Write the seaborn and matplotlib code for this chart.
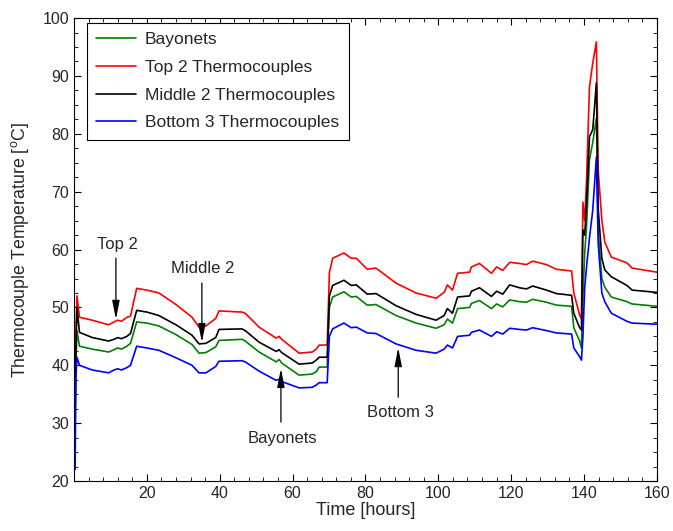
import numpy as np
import pandas as pd
import matplotlib
matplotlib.use('Agg')
import matplotlib.pyplot as plt
from matplotlib.ticker import MultipleLocator
import seaborn as sns

# time knots [hours]
hours = [0.3, 0.5, 0.8, 1.5, 5, 9.5, 11, 12, 13, 14.5, 15.5, 17.2, 20, 23.3, 28,
         32.4, 34.3, 36.2, 38.9, 39.8, 46.1, 47, 50.8, 55.5, 56.3, 57, 61.8,
         65.4, 66.5, 67.3, 69.5, 70.1, 71, 74.1, 76.1, 77.5, 80.5, 82.9, 88.4,
         93.9, 99.4, 101.6, 102.5, 103.9, 105.3, 108.6, 109.1, 111.3, 114.6,
         116, 117.7, 119.6, 122.3, 124.2, 125.9, 129.7, 132.4,
         136.6, 137.2, 138.8, 139.3, 139.7, 140.2, 140.7, 141.5, 142.4, 143.4,
         143.9, 144.9, 145.7, 147.5, 151.8, 153.2, 160]

top2 = [35, 45, 52, 48.3, 47.8, 47.0, 47.5, 47.8, 47.6, 48.3, 48.5, 53.3, 53.0,
        52.5, 50.5, 48.3, 46.6, 46.8, 48.1, 49.4, 49.2, 49.0, 46.6, 44.7, 45.0,
        44.5, 42.1, 42.3, 42.8, 43.5, 43.5, 56.0, 58.5, 59.4, 58.5, 58.5, 56.6,
        56.8, 54.2, 52.5, 51.6, 52.6, 53.9, 53.0, 55.9, 56.1, 57.0, 57.6, 55.9,
        57.0, 56.4, 57.8, 57.6, 57.4, 58.0, 57.4, 56.6,
        56.3, 52.5, 48.7, 48.0, 68.2, 65.0, 72.0, 88.1, 92.2, 95.9,
        73.7, 65.1, 61.3, 58.7, 57.7, 56.8, 56.1]

middle2 = [32, 42, 50, 45.7, 44.8, 44.2, 44.5, 44.8, 44.6, 45.0, 45.5, 49.5,
           49.2, 48.6, 47.0, 45.2, 43.7, 43.8, 44.8, 46.2, 46.3, 46.0, 44.0,
           42.4, 42.7, 42.2, 40.2, 40.4, 40.9, 41.4, 41.4, 52.0, 53.8, 54.7,
           53.8, 53.9, 52.3, 52.4, 50.3, 48.8, 47.8, 48.6, 49.8, 49.0, 51.8,
           52.0, 52.8, 53.4, 51.9, 52.8, 52.3, 53.9, 53.4, 53.2, 53.7, 53.0,
           52.4,
           52.1, 49.0, 46.5, 46.1, 63.4, 62.5, 68.0, 79.5, 80.7, 88.8,
           67.0, 58.5, 56.5, 55.3, 53.8, 53.0, 52.6]

bayonets = [30, 40, 46, 43.3, 42.8, 42.3, 42.7, 43.0, 42.8, 43.3, 43.8, 47.5,
            47.3, 46.8, 45.3, 43.6, 42.1, 42.2, 43.2, 44.3, 44.5, 44.2, 42.3,
            40.6, 41.0, 40.4, 38.3, 38.5, 38.9, 39.7, 39.7, 50.0, 51.8, 52.7,
            51.8, 51.9, 50.4, 50.5, 48.6, 47.3, 46.4, 47.0, 48.0, 47.3, 49.8,
            50.0, 50.7, 51.2, 49.8, 50.6, 50.1, 51.3, 51.0, 50.9, 51.4, 50.9,
            50.4,
            50.2, 46.5, 44.2, 43.0, 52.0, 59.4, 64.0, 75.5, 78.5, 82.7,
            63.0, 55.0, 53.5, 51.8, 51.0, 50.6, 50.2]

bottom3 = [22, 38, 41.4, 40.0, 39.2, 38.7, 39.2, 39.4, 39.2, 39.6, 40.0, 43.3,
           43.0, 42.6, 41.3, 40.0, 38.7, 38.7, 39.8, 40.7, 40.8, 40.6, 39.0,
           37.4, 37.6, 37.2, 36.1, 36.2, 36.6, 37.0, 37.0, 45.0, 46.3, 47.3,
           46.5, 46.6, 45.6, 45.5, 43.7, 42.6, 42.1, 42.8, 43.5, 43.0, 45.0,
           45.2, 45.7, 46.1, 45.0, 45.8, 45.4, 46.4, 46.2, 46.1, 46.5, 46.0,
           45.6,
           45.4, 43.0, 41.5, 40.9, 45.0, 53.5, 57.0, 62.0, 66.8, 76.0,
           61.0, 52.5, 51.0, 49.0, 47.6, 47.3, 47.1]

names = ['Bayonets', 'Top 2 Thermocouples', 'Middle 2 Thermocouples',
         'Bottom 3 Thermocouples']
colors = ['#008000', '#ff0000', '#000000', '#0000ff']

frames = []
for name, vals in zip(names, [bayonets, top2, middle2, bottom3]):
    frames.append(pd.DataFrame({'t': hours, 'T': vals, 'series': name}))
df = pd.concat(frames, ignore_index=True)

sns.set_style('ticks')
plt.rcParams['font.family'] = ['Liberation Sans', 'DejaVu Sans']
plt.rcParams['mathtext.fontset'] = 'custom'
plt.rcParams['mathtext.rm'] = 'Liberation Sans'

fig, ax = plt.subplots(figsize=(6.73, 5.31), dpi=100)
fig.subplots_adjust(left=0.11, right=0.976, top=0.966, bottom=0.094)

sns.lineplot(data=df, x='t', y='T', hue='series', hue_order=names,
             palette=colors, estimator=None, sort=False, lw=1.2, ax=ax)

ax.set_xlim(0, 160)
ax.set_ylim(20, 100)
ax.set_xticks([20, 40, 60, 80, 100, 120, 140, 160])
ax.xaxis.set_minor_locator(MultipleLocator(4))
ax.yaxis.set_minor_locator(MultipleLocator(2.5))
ax.tick_params(which='both', direction='in', top=True, right=True,
               labelsize=11.5, labelcolor='#262626', color='black')
ax.tick_params(which='major', length=5)
ax.tick_params(which='minor', length=3)
for s in ax.spines.values():
    s.set_color('black')
    s.set_linewidth(0.8)

ax.set_xlabel('Time [hours]', fontsize=13, labelpad=1)
ax.set_ylabel(r'Thermocouple Temperature [$^{\rm o}$C]', fontsize=12.8, labelpad=8)

leg = ax.legend(loc='upper left', bbox_to_anchor=(0.022, 0.99), fontsize=12.5,
                frameon=True, fancybox=False, framealpha=1, edgecolor='black',
                handlelength=2.3, handletextpad=0.5, borderaxespad=0,
                labelspacing=0.72, borderpad=0.55)
leg.get_frame().set_linewidth(0.8)

arrow = dict(arrowstyle='-|>,head_length=0.8,head_width=0.16', color='black',
             lw=0.9, mutation_scale=14)
ax.annotate('', xy=(11.5, 47.5), xytext=(11.5, 59.0), arrowprops=arrow)
ax.text(12.0, 60.8, 'Top 2', ha='center', va='center', fontsize=12)
ax.annotate('', xy=(35.1, 43.5), xytext=(35.1, 54.7), arrowprops=arrow)
ax.text(35.4, 56.8, 'Middle 2', ha='center', va='center', fontsize=12)
ax.annotate('', xy=(56.8, 39.9), xytext=(56.8, 29.7), arrowprops=arrow)
ax.text(57.1, 27.4, 'Bayonets', ha='center', va='center', fontsize=12)
ax.annotate('', xy=(89.0, 43.5), xytext=(89.0, 34.0), arrowprops=arrow)
ax.text(89.6, 31.9, 'Bottom 3', ha='center', va='center', fontsize=12)

fig.savefig('out.png', dpi=100)
